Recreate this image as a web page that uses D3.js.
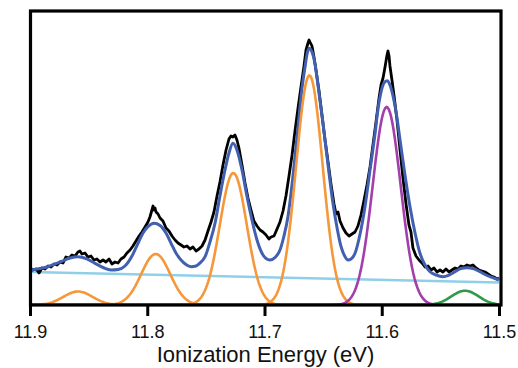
<!DOCTYPE html>
<html><head><meta charset="utf-8">
<script src="https://cdn.jsdelivr.net/npm/d3@7"></script>
<style>
html,body{margin:0;padding:0;background:#fff;}
svg{display:block;font-family:"Liberation Sans",Arial,Helvetica,sans-serif;}
</style></head>
<body>
<svg id="chart" width="518" height="368"></svg>
<script>
// ---- data ----
const tickValues = [11.9, 11.8, 11.7, 11.6, 11.5];
const xLabel = "Ionization Energy (eV)";

// experimental spectrum (black)
const dataEnergy = [11.9000,11.8974,11.8949,11.8923,11.8898,11.8872,11.8846,11.8821,11.8795,11.8770,11.8744,11.8719,11.8693,11.8667,11.8642,11.8616,11.8591,11.8574,11.8557,11.8531,11.8505,11.8480,11.8454,11.8429,11.8403,11.8377,11.8352,11.8326,11.8301,11.8275,11.8249,11.8224,11.8198,11.8173,11.8147,11.8122,11.8096,11.8070,11.8045,11.8019,11.7994,11.7977,11.7960,11.7951,11.7942,11.7934,11.7925,11.7908,11.7891,11.7866,11.7840,11.7815,11.7789,11.7763,11.7738,11.7712,11.7687,11.7661,11.7635,11.7610,11.7584,11.7559,11.7533,11.7507,11.7482,11.7456,11.7431,11.7405,11.7380,11.7354,11.7328,11.7303,11.7286,11.7269,11.7252,11.7235,11.7218,11.7192,11.7166,11.7141,11.7115,11.7090,11.7064,11.7038,11.7013,11.6987,11.6962,11.6945,11.6919,11.6893,11.6868,11.6842,11.6817,11.6791,11.6765,11.6740,11.6714,11.6689,11.6663,11.6646,11.6629,11.6620,11.6612,11.6595,11.6578,11.6561,11.6535,11.6510,11.6484,11.6458,11.6433,11.6407,11.6390,11.6373,11.6356,11.6330,11.6305,11.6279,11.6254,11.6228,11.6203,11.6177,11.6151,11.6126,11.6100,11.6075,11.6049,11.6023,11.6006,11.5989,11.5972,11.5955,11.5947,11.5938,11.5930,11.5913,11.5896,11.5870,11.5844,11.5819,11.5793,11.5768,11.5751,11.5734,11.5708,11.5682,11.5657,11.5631,11.5605,11.5580,11.5554,11.5529,11.5503,11.5478,11.5452,11.5426,11.5401,11.5375,11.5350,11.5324,11.5298,11.5273,11.5247,11.5222,11.5196,11.5171,11.5145,11.5119,11.5094,11.5068,11.5043,11.5017,11.5000];
const dataSignal = [37,35,36,32,37,36,39,38,41,40,43,42,48,47,50,49,53,54,51,52,48,49,45,46,43,45,43,46,41,43,42,46,48,52,55,59,64,69,73,78,83,88,95,99,95,97,93,91,87,84,77,74,69,65,62,60,58,59,56,58,54,56,59,65,74,83,93,109,123,140,155,166,169,168,170,165,157,140,122,107,95,84,79,75,73,70,66,68,69,76,83,94,109,129,150,174,197,218,239,255,262,265,263,259,248,235,214,190,165,143,121,101,91,93,84,77,72,69,71,73,79,90,105,120,138,160,183,207,220,227,238,250,254,249,239,225,210,185,155,127,101,80,73,57,49,45,42,38,39,35,37,33,35,33,36,33,35,37,36,39,38,40,39,40,37,35,34,33,31,29,28,26,27];

// total fit (blue)
const fitEnergy = [11.9000,11.8915,11.8846,11.8787,11.8736,11.8659,11.8591,11.8522,11.8446,11.8377,11.8309,11.8249,11.8190,11.8130,11.8079,11.8036,11.7994,11.7942,11.7891,11.7840,11.7797,11.7755,11.7712,11.7670,11.7627,11.7584,11.7550,11.7507,11.7465,11.7422,11.7380,11.7337,11.7303,11.7269,11.7235,11.7192,11.7150,11.7107,11.7064,11.7021,11.6987,11.6953,11.6910,11.6868,11.6834,11.6800,11.6757,11.6714,11.6680,11.6654,11.6637,11.6620,11.6603,11.6586,11.6569,11.6535,11.6501,11.6458,11.6416,11.6381,11.6347,11.6313,11.6288,11.6262,11.6228,11.6185,11.6143,11.6100,11.6057,11.6032,11.6006,11.5981,11.5955,11.5930,11.5904,11.5870,11.5844,11.5802,11.5759,11.5716,11.5674,11.5631,11.5588,11.5537,11.5478,11.5426,11.5375,11.5324,11.5273,11.5222,11.5162,11.5111,11.5060,11.5000];
const fitSignal = [35,36.5,38.3,41,43.3,47,48.3,46.5,41.7,37.5,35,35.5,39,49,61.7,72,78.3,81.7,79.5,72,61.7,52,45,40.5,38.3,39,42,48.3,63,81.7,109,135,152,161.7,155,135,109,85,65,51.7,46.5,45,47.5,55,69,88.3,129,178.3,217,238.3,251,256.7,255,250,241,212,181.7,140,101.7,77,58.3,48.3,45,46,51.7,71,98.3,135,171.7,196,213,222,224.3,220,209,187,165,130,98.3,72,51.7,40,33.3,30,28.3,30,33.3,36.5,37.3,36.5,33.3,30,27.7,25];

// linear background (light blue)
const baseEnergy = [11.9, 11.5];
const baseSignal = [33, 22.5];

// fitted Gaussian components: center (eV), height, sigma (eV)
const orangeCenter = [11.8591, 11.7928, 11.7266, 11.6617];
const orangeHeight = [13.5, 51, 132, 229.5];
const orangeSigma  = [0.01237, 0.01237, 0.01151, 0.01134];
const purpleCenter = [11.5958];
const purpleHeight = [198];
const purpleSigma  = [0.01186];
const greenCenter  = [11.5290];
const greenHeight  = [14.3];
const greenSigma   = [0.01151];

// ---- drawing ----
const svg = d3.select("#chart");
const pLeft = 30.5, pRight = 501, pTop = 11, pBottom = 305;

const x = d3.scaleLinear().domain([11.9, 11.5]).range([30, 499]);
const y = d3.scaleLinear().domain([0, 294]).range([pBottom, pTop]);

svg.append("rect").attr("width",518).attr("height",368).attr("fill","#fff");

svg.append("defs").append("clipPath").attr("id","clip")
  .append("rect").attr("x",pLeft).attr("y",pTop).attr("width",pRight-pLeft).attr("height",pBottom-pTop);

const g = svg.append("g").attr("clip-path","url(#clip)");

const line = (curve) => d3.line().x(d => x(d[0])).y(d => y(d[1])).curve(curve);

// background
g.append("path").datum(baseEnergy.map((e,i)=>[e, baseSignal[i]]))
  .attr("d", line(d3.curveLinear)).attr("fill","none")
  .attr("stroke","#8fcfe8").attr("stroke-width",2.6);

// experimental
g.append("path").datum(dataEnergy.map((e,i)=>[e, dataSignal[i]]))
  .attr("d", line(d3.curveLinear)).attr("fill","none")
  .attr("stroke","#000").attr("stroke-width",2.8).attr("stroke-linejoin","round");

// fit
g.append("path").datum(fitEnergy.map((e,i)=>[e, fitSignal[i]]))
  .attr("d", line(d3.curveMonotoneX)).attr("fill","none")
  .attr("stroke","#4160b0").attr("stroke-width",3);

// components
const grid = d3.range(0, 401).map(i => 11.9 - i*0.001);
function drawComp(c, h, s, color){
  const pts = grid.map(e => [e, h*Math.exp(-((e-c)*(e-c))/(2*s*s))]);
  g.append("path").datum(pts).attr("d", line(d3.curveLinear))
    .attr("fill","none").attr("stroke",color).attr("stroke-width",2.6);
}
orangeCenter.forEach((c,i)=>drawComp(c, orangeHeight[i], orangeSigma[i], "#f5973a"));
purpleCenter.forEach((c,i)=>drawComp(c, purpleHeight[i], purpleSigma[i], "#a23fab"));
greenCenter.forEach((c,i)=>drawComp(c, greenHeight[i], greenSigma[i], "#2e9a4a"));

// frame
svg.append("rect").attr("x",pLeft).attr("y",pTop).attr("width",pRight-pLeft).attr("height",pBottom-pTop)
  .attr("fill","none").attr("stroke","#000").attr("stroke-width",3.2);

// axis
const ax = svg.append("g").attr("transform",`translate(0,${pBottom})`)
  .call(d3.axisBottom(x).tickValues(tickValues).tickFormat(d3.format(".1f")).tickSize(11).tickPadding(9));
ax.select(".domain").remove();
ax.selectAll(".tick line").attr("stroke","#000").attr("stroke-width",3);
ax.selectAll(".tick text").attr("font-size",18).attr("fill","#111")
  .attr("font-family","'Liberation Sans',Arial,sans-serif");

svg.append("text").attr("x",265.5).attr("y",362).attr("text-anchor","middle")
  .attr("font-size",22).attr("fill","#111").text(xLabel);
</script>
</body></html>
